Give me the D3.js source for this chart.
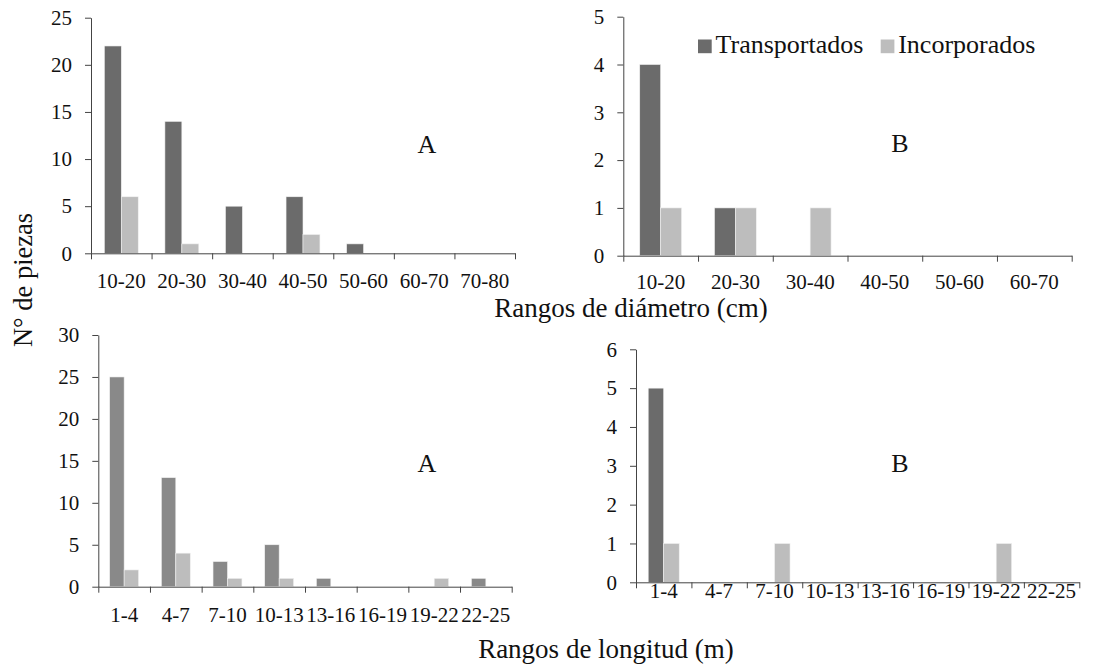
<!DOCTYPE html>
<html>
<head>
<meta charset="utf-8">
<script src="https://cdn.jsdelivr.net/npm/d3@7"></script>
<style>
  body { margin: 0; background: #fff; }
  svg { display: block; }
</style>
</head>
<body>
<script>
// Categories
const diamCatsA = ["10-20", "20-30", "30-40", "40-50", "50-60", "60-70", "70-80"];
const diamCatsB = ["10-20", "20-30", "30-40", "40-50", "50-60", "60-70"];
const longCats = ["1-4", "4-7", "7-10", "10-13", "13-16", "16-19", "19-22", "22-25"];

// Series values
const diamTransA = [22, 14, 5, 6, 1, 0, 0];
const diamIncA = [6, 1, 0, 2, 0, 0, 0];
const diamTransB = [4, 1, 0, 0, 0, 0];
const diamIncB = [1, 1, 1, 0, 0, 0];
const longTransA = [25, 13, 3, 5, 1, 0, 0, 1];
const longIncA = [2, 4, 1, 1, 0, 0, 1, 0];
const longTransB = [5, 0, 0, 0, 0, 0, 0, 0];
const longIncB = [1, 0, 1, 0, 0, 0, 1, 0];

// y tick values
const ticksA1 = [0, 5, 10, 15, 20, 25];
const ticksB1 = [0, 1, 2, 3, 4, 5];
const ticksA2 = [0, 5, 10, 15, 20, 25, 30];
const ticksB2 = [0, 1, 2, 3, 4, 5, 6];

const seriesNames = ["Transportados", "Incorporados"];

const width = 1117, height = 667;
const ink = "#111";
const axisColor = "#444";
const serif = '"Liberation Serif"';

const svg = d3.select("body").append("svg")
  .attr("width", width)
  .attr("height", height);

function panel(cfg) {
  const g = svg.append("g");
  const x = d3.scaleBand().domain(cfg.cats).range([cfg.x0, cfg.x1]);
  const y = d3.scaleLinear().domain([0, d3.max(cfg.yTicks)]).range([cfg.yB, cfg.yT]);
  // the pair of bars fills ~56% of each category
  const grp = x.bandwidth() * 0.56;
  const bw = grp / 2;
  const off = (x.bandwidth() - grp) / 2;

  const rows = [];
  cfg.cats.forEach((c, i) => {
    rows.push({ c, s: 0, v: cfg.trans[i] });
    rows.push({ c, s: 1, v: cfg.inc[i] });
  });

  g.append("g").selectAll("rect")
    .data(rows.filter(d => d.v > 0))
    .join("rect")
    .attr("x", d => x(d.c) + off + d.s * bw)
    .attr("y", d => y(d.v))
    .attr("width", bw)
    .attr("height", d => y(0) - y(d.v))
    .attr("fill", d => d.s === 0 ? cfg.dark : "#bdbdbd")
    .attr("stroke", "#f2f2f2")
    .attr("stroke-width", 0.6);

  // y axis
  const ya = g.append("g")
    .attr("transform", `translate(${cfg.x0},0)`)
    .call(d3.axisLeft(y).tickValues(cfg.yTicks).tickFormat(d3.format("d"))
      .tickSize(6).tickSizeOuter(0).tickPadding(13));
  ya.selectAll("text").attr("font-size", 21).attr("fill", ink)
    .style("font-family", serif);

  // x axis boundary ticks
  const xb = d3.scaleLinear().domain([0, cfg.cats.length]).range([cfg.x0, cfg.x1]);
  g.append("g")
    .attr("transform", `translate(0,${cfg.yB})`)
    .call(d3.axisBottom(xb).tickValues(d3.range(cfg.cats.length + 1))
      .tickFormat("").tickSize(6).tickSizeOuter(0));

  // x category labels
  const xl = g.append("g")
    .attr("transform", `translate(0,${cfg.yB})`)
    .call(d3.axisBottom(x).tickSize(0).tickPadding(cfg.labPad));
  xl.select(".domain").remove();
  xl.selectAll("text").attr("font-size", 21).attr("fill", ink)
    .style("font-family", serif);

  g.selectAll(".domain, .tick line").attr("stroke", axisColor);

  g.append("text")
    .attr("x", cfg.letterX)
    .attr("y", cfg.letterY)
    .attr("text-anchor", "middle")
    .attr("font-size", 26)
    .attr("fill", ink)
    .style("font-family", serif)
    .text(cfg.letter);
}

panel({ cats: diamCatsA, trans: diamTransA, inc: diamIncA, yTicks: ticksA1,
  x0: 91, x1: 515, yT: 17.7, yB: 253.3, dark: "#6b6b6b", labPad: 20,
  letter: "A", letterX: 427, letterY: 152.5 });
panel({ cats: diamCatsB, trans: diamTransB, inc: diamIncB, yTicks: ticksB1,
  x0: 623.3, x1: 1071.7, yT: 16.7, yB: 255.7, dark: "#6b6b6b", labPad: 18,
  letter: "B", letterX: 900, letterY: 151.5 });
panel({ cats: longCats, trans: longTransA, inc: longIncA, yTicks: ticksA2,
  x0: 98.3, x1: 511.7, yT: 335, yB: 586.7, dark: "#898989", labPad: 20,
  letter: "A", letterX: 427, letterY: 471.5 });
panel({ cats: longCats, trans: longTransB, inc: longIncB, yTicks: ticksB2,
  x0: 636, x1: 1079.3, yT: 349.3, yB: 582.3, dark: "#6b6b6b", labPad: 1,
  letter: "B", letterX: 900, letterY: 471.5 });

// legend
const legend = svg.append("g");
const legendX = [698, 880.7];
seriesNames.forEach((name, i) => {
  legend.append("rect")
    .attr("x", legendX[i]).attr("y", 39.5)
    .attr("width", 13.7).attr("height", 13.7)
    .attr("fill", i === 0 ? "#6b6b6b" : "#bdbdbd");
  legend.append("text")
    .attr("x", legendX[i] + 17.5).attr("y", 53.3)
    .attr("font-size", 26).attr("fill", ink)
    .style("font-family", serif)
    .text(name);
});

// axis titles
svg.append("text")
  .attr("x", 631).attr("y", 316.5)
  .attr("text-anchor", "middle").attr("font-size", 27).attr("fill", ink)
  .style("font-family", serif)
  .text("Rangos de diámetro (cm)");
svg.append("text")
  .attr("x", 606).attr("y", 658)
  .attr("text-anchor", "middle").attr("font-size", 27).attr("fill", ink)
  .style("font-family", serif)
  .text("Rangos de longitud (m)");
svg.append("text")
  .attr("transform", "translate(31.5,280) rotate(-90)")
  .attr("text-anchor", "middle").attr("font-size", 26.5).attr("fill", ink)
  .style("font-family", serif)
  .text("N° de piezas");
</script>
</body>
</html>
